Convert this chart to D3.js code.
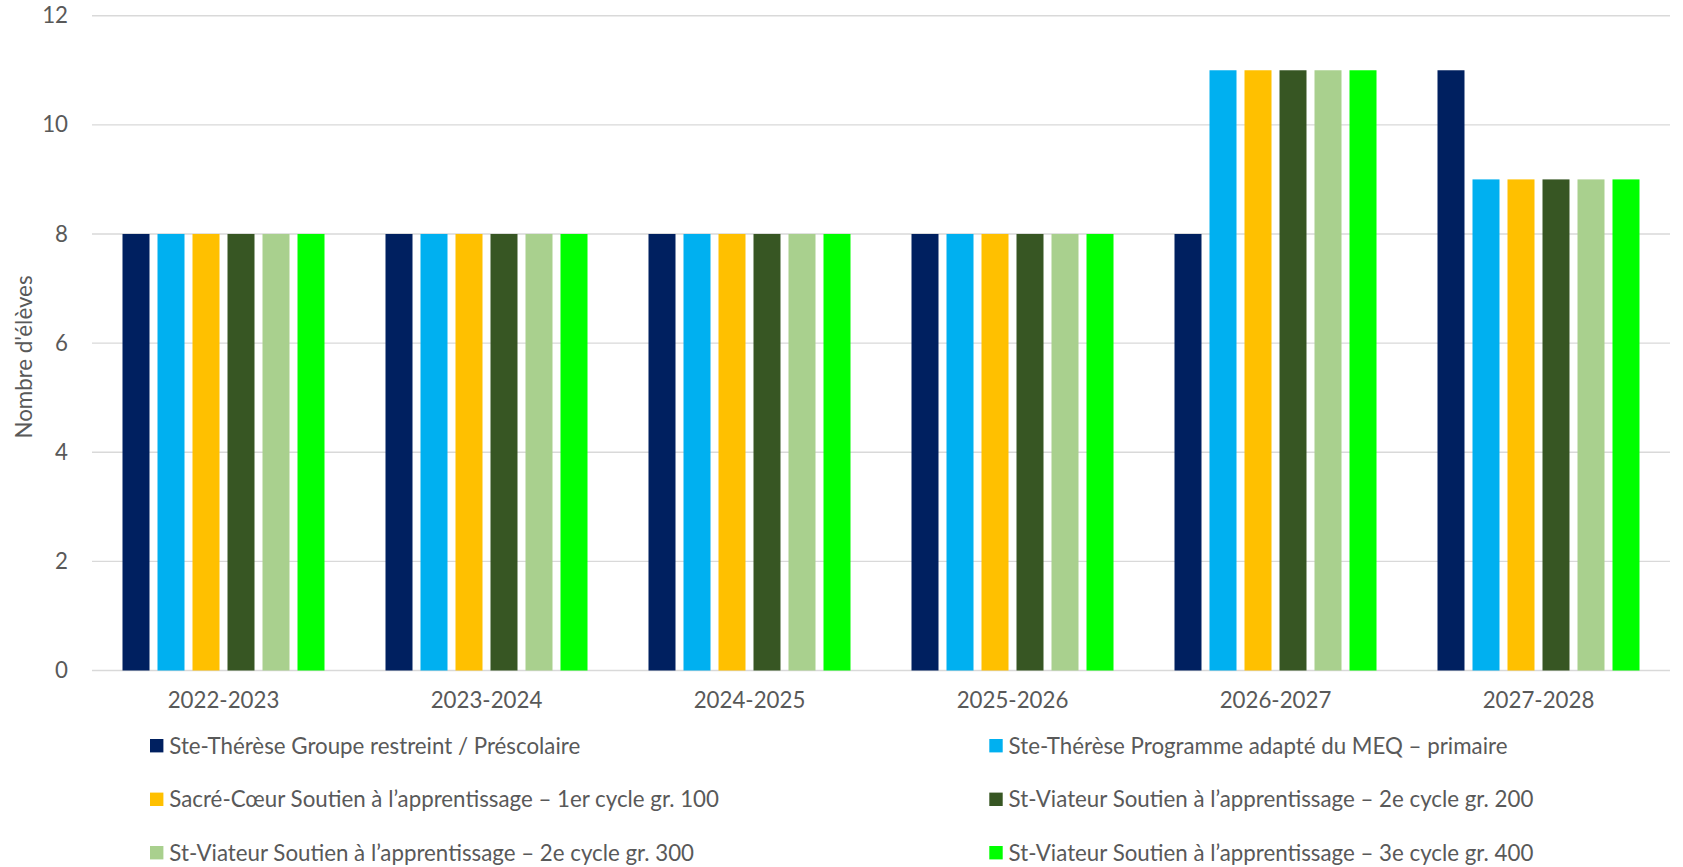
<!DOCTYPE html>
<html><head><meta charset="utf-8">
<script src="https://cdn.jsdelivr.net/npm/d3@7"></script>
<style>body{margin:0;background:#fff}svg{display:block}text{font-family:Lato,"Open Sans",sans-serif;fill:#595959}</style>
</head><body><svg id="c" width="1683" height="867"></svg>
<script>
const categories = ["2022-2023","2023-2024","2024-2025","2025-2026","2026-2027","2027-2028"];
const seriesNames = [
  "Ste-Thérèse Groupe restreint / Préscolaire",
  "Ste-Thérèse Programme adapté du MEQ – primaire",
  "Sacré-Cœur Soutien à l’apprentissage – 1er cycle gr. 100",
  "St-Viateur Soutien à l’apprentissage – 2e cycle gr. 200",
  "St-Viateur Soutien à l’apprentissage – 2e cycle gr. 300",
  "St-Viateur Soutien à l’apprentissage – 3e cycle gr. 400"
];
const s1 = [8,8,8,8,8,11];
const s2 = [8,8,8,8,11,9];
const s3 = [8,8,8,8,11,9];
const s4 = [8,8,8,8,11,9];
const s5 = [8,8,8,8,11,9];
const s6 = [8,8,8,8,11,9];
const seriesValues = [s1,s2,s3,s4,s5,s6];
const colors = ["#002060","#00B0F0","#FFC000","#375623","#A9D08E","#00FF00"];
const yTicks = [0,2,4,6,8,10,12];
const yTitle = "Nombre d'élèves";

const svg = d3.select("#c");
const probe = svg.append("text").attr("font-size",100).text(seriesNames[0]);
const w100 = probe.node().getComputedTextLength();
probe.remove();
const fs = Math.min(23, 100*411/w100);

const pL = 92, pR = 1670, pT = 15.7, pB = 670.5;
const x0 = d3.scaleBand().domain(categories).range([pL,pR]).paddingInner(0.2015).paddingOuter(0.2015/2);
const x1 = d3.scaleBand().domain(d3.range(6)).range([0,x0.bandwidth()]).paddingInner(8/35).paddingOuter(4/35);
const y = d3.scaleLinear().domain([0,12]).range([pB,pT]);

svg.append("g").selectAll("line").data(yTicks).join("line")
  .attr("x1",pL).attr("x2",pR).attr("y1",d=>y(d)).attr("y2",d=>y(d))
  .attr("stroke","#d9d9d9").attr("stroke-width",1.4);

const ya = svg.append("g").attr("transform",`translate(${pL-24},0)`)
  .call(d3.axisLeft(y).tickValues(yTicks).tickSize(0).tickPadding(0));
ya.select(".domain").remove();
ya.selectAll("text").attr("font-size",fs).attr("font-family","Lato").attr("fill","#595959");

const groups = svg.append("g").selectAll("g").data(categories).join("g")
  .attr("transform",d=>`translate(${x0(d)},0)`);
groups.selectAll("rect").data((c,ci)=>seriesValues.map((sv,si)=>({si,v:sv[ci]}))).join("rect")
  .attr("x",d=>x1(d.si)).attr("width",x1.bandwidth())
  .attr("y",d=>y(d.v)).attr("height",d=>y(0)-y(d.v))
  .attr("fill",d=>colors[d.si]);

const xa = svg.append("g").attr("transform",`translate(0,${pB+22})`)
  .call(d3.axisBottom(x0).tickSize(0).tickPadding(0));
xa.select(".domain").remove();
xa.selectAll("text").attr("font-size",fs).attr("font-family","Lato").attr("fill","#595959").attr("dy","0.71em");

svg.append("text").attr("transform",`translate(23,357) rotate(-90)`)
  .attr("text-anchor","middle").attr("dominant-baseline","central").attr("font-size",fs).text(yTitle);

const legX = [150,989.3], legY = [745.7,799.3,852.7];
const leg = svg.append("g").selectAll("g").data(seriesNames).join("g")
  .attr("transform",(d,i)=>`translate(${legX[i%2]},${legY[Math.floor(i/2)]})`);
leg.append("rect").attr("x",0).attr("y",-6.7).attr("width",13.4).attr("height",13.4).attr("fill",(d,i)=>colors[i]);
leg.append("text").attr("x",19.3).attr("dy","0.35em").attr("font-size",fs).text(d=>d);
</script></body></html>
